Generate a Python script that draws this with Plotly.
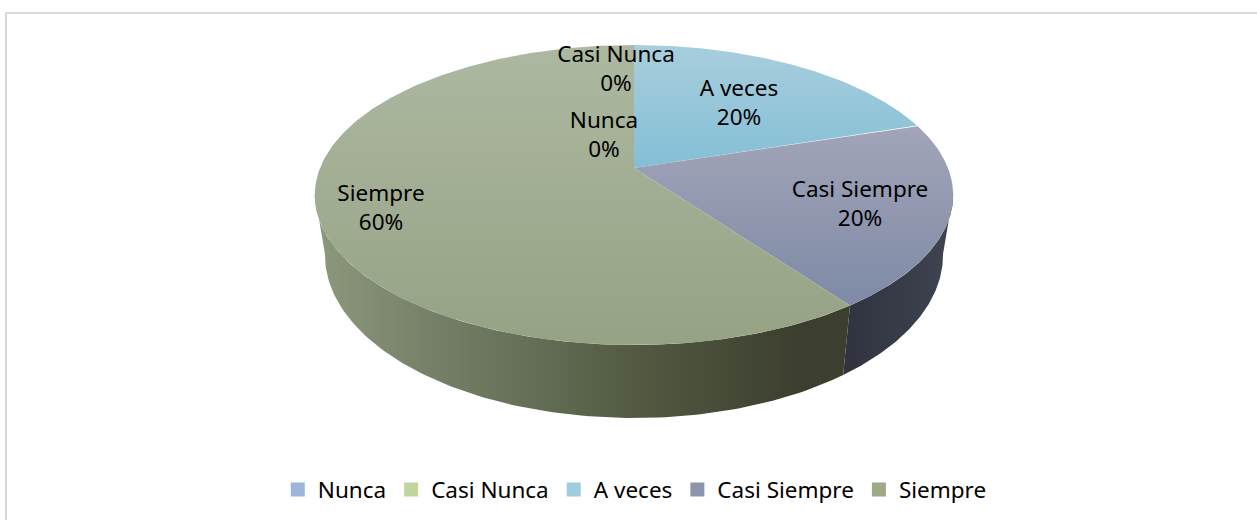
import numpy as np
import plotly.graph_objects as go

# Data
categories = ['Nunca', 'Casi Nunca', 'A veces', 'Casi Siempre', 'Siempre']
values = [0, 0, 20, 20, 60]
percent_labels = ['0%', '0%', '20%', '20%', '60%']

# Styles, one entry per category
legend_colors = ['#9db5d8', '#c0d59b', '#9fcddf', '#8d95ae', '#9fa887']
top_gradients = [None, None, ('#a8cedd', '#84bfd6'), ('#a2a5b8', '#7e8aa6'), ('#adb8a1', '#96a284')]
side_gradients = {
    'Casi Siempre': [[0, '#30333f'], [1, '#3f4450']],
    'Siempre': [[0, '#8e987c'], [0.2, '#78826a'], [0.6, '#525a42'], [0.9, '#3c3f2f'], [1, '#3c3f2f']],
}
label_pos = {
    'Nunca': (604, 137),
    'Casi Nunca': (616, 71),
    'A veces': (739, 105),
    'Casi Siempre': (860, 206),
    'Siempre': (381, 210),
}

FONT = 'Noto Sans'
FONT_SIZE = 22.5

# Projection of the tilted disc into page pixels
CX, CY = 634, 168
RX, KY, C = 314, 145.14, 0.18
BOTTOM_RX, BOTTOM_KY, BOTTOM_DROP = 304, 157.7, 57.7
VISIBLE_FROM, VISIBLE_TO = 100, 260  # degrees clockwise from the top


def top_point(deg):
    a = np.radians(deg)
    d = 1 + C * np.cos(a)
    return CX + RX * np.sin(a) / d, CY - KY * np.cos(a) / d


def bottom_point(deg):
    a = np.radians(deg)
    d = 1 + C * np.cos(a)
    return CX + BOTTOM_RX * np.sin(a) / d, CY + BOTTOM_DROP - BOTTOM_KY * np.cos(a) / d


fig = go.Figure()

# Slice angles come from the values
total = sum(values)
edges = np.concatenate([[0], np.cumsum(values)]) * 360 / total

# Sides first
for i, name in enumerate(categories):
    start, stop = max(edges[i], VISIBLE_FROM), min(edges[i + 1], VISIBLE_TO)
    if values[i] == 0 or start >= stop:
        continue
    deg = np.linspace(start, stop, 120)
    tx, ty = top_point(deg)
    bx, by = bottom_point(deg[::-1])
    xs = np.concatenate([tx, bx])
    ys = np.concatenate([ty, by])
    fig.add_trace(go.Scatter(
        x=xs, y=ys, mode='lines', fill='toself', line=dict(width=0),
        fillgradient=dict(type='horizontal', colorscale=side_gradients[name],
                          start=xs.min(), stop=xs.max()),
        showlegend=False, hoverinfo='skip'
    ))

# Top faces
for i, name in enumerate(categories):
    if values[i] == 0:
        continue
    deg = np.linspace(edges[i], edges[i + 1], 240)
    tx, ty = top_point(deg)
    xs = np.concatenate([[CX], tx, [CX]])
    ys = np.concatenate([[CY], ty, [CY]])
    fig.add_trace(go.Scatter(
        x=xs, y=ys, mode='lines', fill='toself', line=dict(width=0),
        fillgradient=dict(type='vertical',
                          colorscale=[[0, top_gradients[i][1]], [1, top_gradients[i][0]]],
                          start=ys.max(), stop=ys.min()),
        showlegend=False, hoverinfo='skip'
    ))

# Data labels
fig.add_trace(go.Scatter(
    x=[label_pos[c][0] for c in categories],
    y=[label_pos[c][1] for c in categories],
    text=[f'{c}<br>{p}' for c, p in zip(categories, percent_labels)],
    mode='text', textposition='middle center',
    textfont=dict(family=FONT, size=FONT_SIZE, color='#000000'),
    showlegend=False, hoverinfo='skip'
))

# Legend entries
for name, color in zip(categories, legend_colors):
    fig.add_trace(go.Scatter(
        x=[None], y=[None], mode='markers', name=name,
        marker=dict(symbol='square', size=14, color=color)
    ))

fig.update_layout(
    width=1257, height=520,
    margin=dict(l=0, r=0, t=0, b=0),
    paper_bgcolor='white', plot_bgcolor='white',
    font=dict(family=FONT, size=FONT_SIZE, color='#000000'),
    xaxis=dict(range=[0, 1257], visible=False, fixedrange=True),
    yaxis=dict(range=[520, 0], visible=False, fixedrange=True),
    legend=dict(orientation='h', x=0.505, xanchor='center', y=0.0577, yanchor='middle',
                itemclick=False, itemdoubleclick=False, traceorder='normal',
                bgcolor='rgba(0,0,0,0)'),
    shapes=[
        dict(type='line', xref='x', yref='y', x0=5, x1=1257, y0=13, y1=13,
             line=dict(color='#d9d9d9', width=2)),
        dict(type='line', xref='x', yref='y', x0=6, x1=6, y0=12, y1=520,
             line=dict(color='#d9d9d9', width=2)),
    ],
)

fig.write_html("out.html", config={'displayModeBar': False},
               post_script="document.body.style.margin='0';")
